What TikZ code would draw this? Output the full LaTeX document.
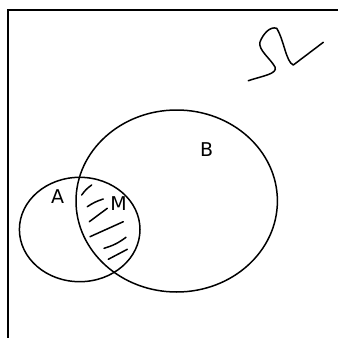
\documentclass[tikz,border=0pt]{standalone}
\usepackage{fontspec}
\setmainfont{DejaVu Sans}
\begin{document}
\begin{tikzpicture}[x=1pt,y=-1pt,line width=1.5pt,
  lbl/.style={font=\fontsize{19}{19}\selectfont,inner sep=0pt},
  hatch/.style={line width=1.5pt,line cap=round}]
\useasboundingbox (0,0) rectangle (338,338);
\draw[line width=1.7pt] (8,338) -- (8,10) -- (338,10);
\draw (79.7,229.5) ellipse [x radius=60.3, y radius=52.2];
\draw (176.7,201) ellipse [x radius=100.7, y radius=91];
\node[lbl] (A) at (57.5,197) {A};
\node[lbl] (B) at (206.7,150) {B};
\node[lbl] (M) at (118.5,203.5) {M};
\draw[hatch] (81.7,195) to[bend left=10] (91.7,185);
\draw[hatch] (87.3,206.7) to[bend left=8] (103.3,199);
\draw[hatch] (89.3,221.7) -- (107.3,208.3);
\draw[hatch] (90,236.7) -- (123.3,221.7);
\draw[hatch] (104,248.3) to[bend right=10] (126,237.3);
\draw[hatch] (108.3,259.3) -- (127.3,249.3);
\draw[line cap=round,line join=round] (248.3,80.7) .. controls (262,76) and (278,74) .. (275,67)
  .. controls (270,58) and (258,50) .. (260,42) .. controls (263,34) and (270,26) .. (276.7,28.3)
  .. controls (284,40) and (286,62) .. (293.3,65) -- (323.3,42.3);
\end{tikzpicture}
\end{document}
